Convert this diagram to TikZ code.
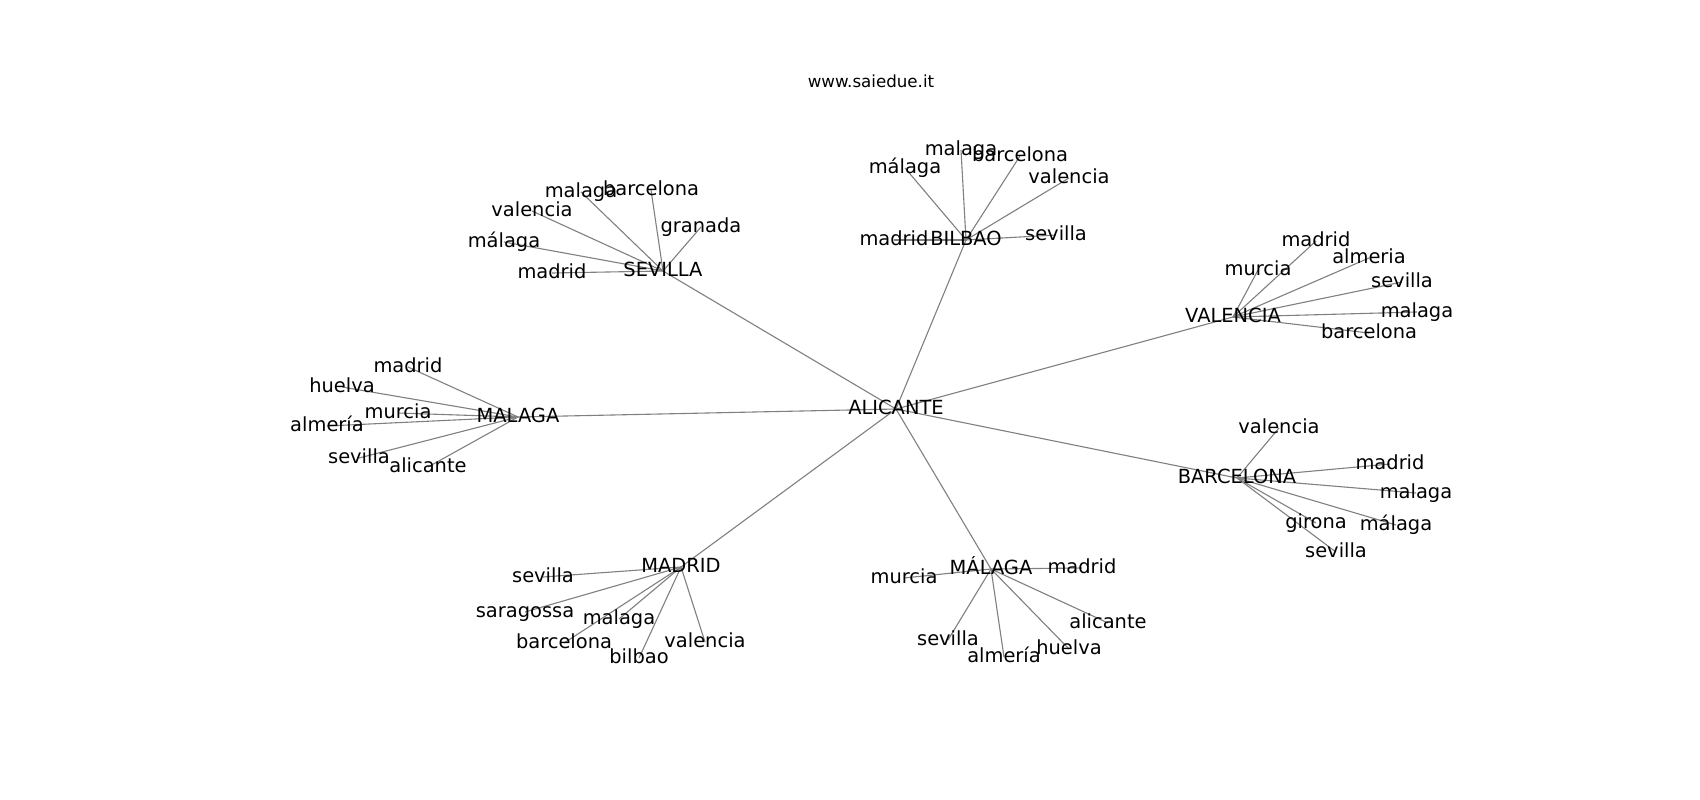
\documentclass[tikz,border=0pt]{standalone}
\usepackage{fontspec}
\setmainfont{DejaVu Sans}
\usetikzlibrary{backgrounds}
\begin{document}
\begin{tikzpicture}[x=1pt,y=-1pt,
  lbl/.style={inner sep=0pt, text height=14.8pt, text depth=4.7pt, font=\fontsize{19.44}{23}\selectfont, text=black},
  edge/.style={draw=gray, line width=1.1pt},
  ttl/.style={inner sep=0pt, anchor=base, font=\fontsize{16.67}{20}\selectfont, text=black}]
\useasboundingbox (0,0) rectangle (1700,800);
\node[ttl] (title) at (871,88) {www.saiedue.it};
% hubs
\node[lbl] (ali) at (896,409) {ALICANTE};
\node[lbl] (sev) at (663,271) {SEVILLA};
\node[lbl] (bil) at (966,240) {BILBAO};
\node[lbl] (val) at (1233,317) {VALENCIA};
\node[lbl] (mal) at (518,417) {MALAGA};
\node[lbl] (bar) at (1237,478) {BARCELONA};
\node[lbl] (mad) at (681,567) {MADRID};
\node[lbl] (mla) at (991,569) {MÁLAGA};
% SEVILLA leaves
\node[lbl] (s1) at (581,192) {malaga};
\node[lbl] (s2) at (651,190) {barcelona};
\node[lbl] (s3) at (532,211) {valencia};
\node[lbl] (s4) at (701,227) {granada};
\node[lbl] (s5) at (504,242) {málaga};
\node[lbl] (s6) at (552,273) {madrid};
% BILBAO leaves
\node[lbl] (b1) at (961,150) {malaga};
\node[lbl] (b2) at (1020,156) {barcelona};
\node[lbl] (b3) at (905,168) {málaga};
\node[lbl] (b4) at (1069,178) {valencia};
\node[lbl] (b5) at (894,240) {madrid};
\node[lbl] (b6) at (1056,235) {sevilla};
% VALENCIA leaves
\node[lbl] (v1) at (1316,241) {madrid};
\node[lbl] (v2) at (1258,270) {murcia};
\node[lbl] (v3) at (1369,258) {almeria};
\node[lbl] (v4) at (1402,282) {sevilla};
\node[lbl] (v5) at (1417,312) {malaga};
\node[lbl] (v6) at (1369,333) {barcelona};
% MALAGA leaves
\node[lbl] (m1) at (408,367) {madrid};
\node[lbl] (m2) at (342,387) {huelva};
\node[lbl] (m3) at (398,413) {murcia};
\node[lbl] (m4) at (327,426) {almería};
\node[lbl] (m5) at (359,458) {sevilla};
\node[lbl] (m6) at (428,467) {alicante};
% BARCELONA leaves
\node[lbl] (c1) at (1279,428) {valencia};
\node[lbl] (c2) at (1390,464) {madrid};
\node[lbl] (c3) at (1416,493) {malaga};
\node[lbl] (c4) at (1316,523) {girona};
\node[lbl] (c5) at (1396,525) {málaga};
\node[lbl] (c6) at (1336,552) {sevilla};
% MADRID leaves
\node[lbl] (d1) at (543,577) {sevilla};
\node[lbl] (d2) at (525,612) {saragossa};
\node[lbl] (d3) at (619,619) {malaga};
\node[lbl] (d4) at (564,643) {barcelona};
\node[lbl] (d5) at (639,658) {bilbao};
\node[lbl] (d6) at (705,642) {valencia};
% MÁLAGA leaves
\node[lbl] (a1) at (904,578) {murcia};
\node[lbl] (a2) at (1082,568) {madrid};
\node[lbl] (a3) at (1108,623) {alicante};
\node[lbl] (a4) at (948,640) {sevilla};
\node[lbl] (a5) at (1004,657) {almería};
\node[lbl] (a6) at (1069,649) {huelva};
\begin{pgfonlayer}{background}
\fill[white] (0,0) rectangle (1700,800);
\foreach \h in {sev,bil,val,mal,bar,mad,mla}
  \draw[edge] (ali.center) -- (\h.center);
\foreach \l in {s1,s2,s3,s4,s5,s6}
  \draw[edge] (sev.center) -- (\l.center);
\foreach \l in {b1,b2,b3,b4,b5,b6}
  \draw[edge] (bil.center) -- (\l.center);
\foreach \l in {v1,v2,v3,v4,v5,v6}
  \draw[edge] (val.center) -- (\l.center);
\foreach \l in {m1,m2,m3,m4,m5,m6}
  \draw[edge] (mal.center) -- (\l.center);
\foreach \l in {c1,c2,c3,c4,c5,c6}
  \draw[edge] (bar.center) -- (\l.center);
\foreach \l in {d1,d2,d3,d4,d5,d6}
  \draw[edge] (mad.center) -- (\l.center);
\foreach \l in {a1,a2,a3,a4,a5,a6}
  \draw[edge] (mla.center) -- (\l.center);
\end{pgfonlayer}
\end{tikzpicture}
\end{document}
